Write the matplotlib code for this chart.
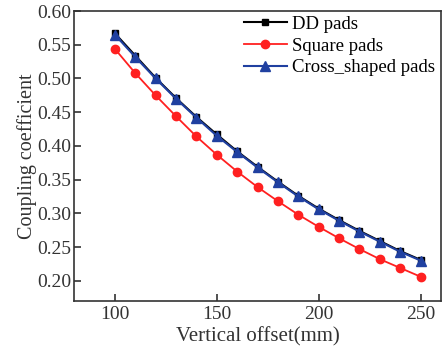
import numpy as np
import matplotlib
matplotlib.use("Agg")
import matplotlib.pyplot as plt

plt.rcParams['font.family'] = ['Liberation Serif', 'DejaVu Serif']

# vertical offset between the pads (mm)
offset = [100, 110, 120, 130, 140, 150, 160, 170, 180, 190, 200, 210, 220, 230, 240, 250]

dd_pads = [0.567, 0.534, 0.501, 0.471, 0.443, 0.417, 0.392, 0.369, 0.347, 0.326,
           0.307, 0.290, 0.274, 0.259, 0.244, 0.231]
square_pads = [0.544, 0.508, 0.475, 0.444, 0.414, 0.387, 0.362, 0.339, 0.318, 0.298,
               0.280, 0.263, 0.247, 0.232, 0.219, 0.206]
cross_pads = [0.565, 0.532, 0.500, 0.470, 0.442, 0.415, 0.391, 0.368, 0.346, 0.325,
              0.306, 0.289, 0.273, 0.258, 0.243, 0.230]

fig = plt.figure(figsize=(4.43, 3.49), dpi=100)
ax = fig.add_axes([74/443, 48/349, 367/443, 290/349])

ax.plot(offset, dd_pads, color='black', marker='s', ms=5, lw=1.5, label='DD pads')
ax.plot(offset, square_pads, color='#ff2020', marker='o', ms=6, lw=1.3, label='Square pads')
ax.plot(offset, cross_pads, color='#2040a0', marker='^', ms=6.5, lw=1.5, label='Cross_shaped pads')

ax.set_xlim(80, 260)
ax.set_ylim(0.17, 0.60)
ax.set_xticks([100, 150, 200, 250])
ax.set_yticks(np.arange(0.20, 0.601, 0.05))
ax.yaxis.set_major_formatter(matplotlib.ticker.FormatStrFormatter('%.2f'))
ax.tick_params(direction='in', length=5, width=1.2, labelsize=14, pad=2,
               colors='#333333', labelcolor='#333333')
ax.tick_params(axis='x', pad=3.5)
for s in ax.spines.values():
    s.set_linewidth(1.2)
    s.set_color('#333333')

ax.set_xlabel('Vertical offset(mm)', fontsize=15, color='#333333', labelpad=3)
ax.set_ylabel('Coupling coefficient', fontsize=14.5, color='#333333', labelpad=0)

ax.legend(loc='upper right', frameon=False, fontsize=13.5, handlelength=2.3,
          handletextpad=0.3, labelspacing=0.25, borderaxespad=0.0,
          bbox_to_anchor=(1.005, 1.01))

fig.savefig('out.png', dpi=100)
